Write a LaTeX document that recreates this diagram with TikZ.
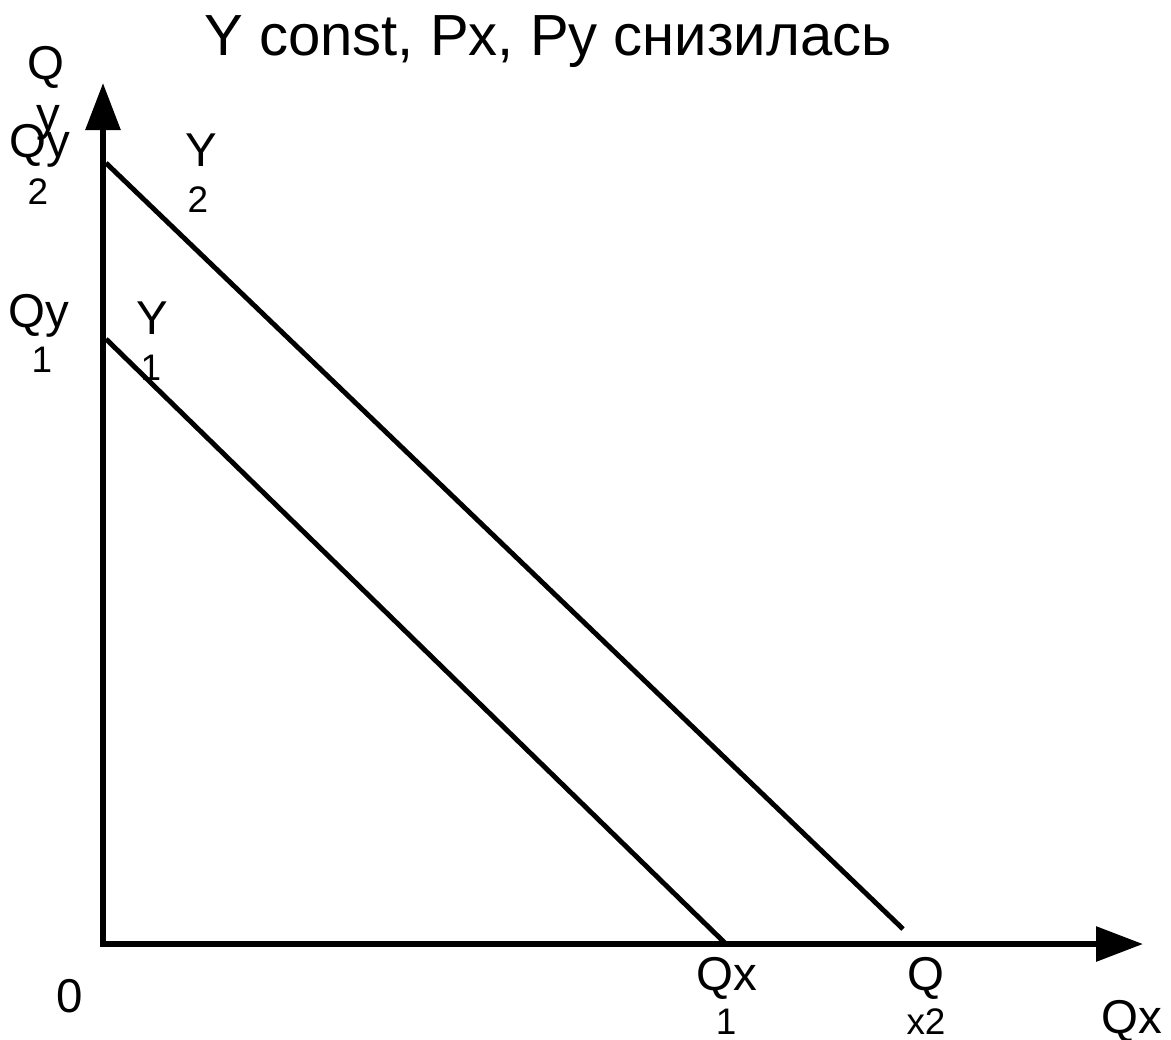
\documentclass[tikz,border=0pt]{standalone}
\usepackage{fontspec}
\setmainfont{Liberation Sans}
\usetikzlibrary{arrows.meta}

\begin{document}
\begin{tikzpicture}[
    x=0.01cm, y=-0.01cm,
    axis/.style={-{Triangle[length=4.7mm, width=3.4mm]}, line width=1.7pt},
    budget/.style={line width=1.4pt},
    title/.style={font=\fontsize{16.5}{18}\selectfont, inner sep=0pt, anchor=base},
    lbl/.style={font=\fontsize{13.5}{15}\selectfont, inner sep=0pt, anchor=base},
    idx/.style={font=\fontsize{10.5}{12}\selectfont, inner sep=0pt, anchor=base}
]
    \useasboundingbox (0,0) rectangle (1171,1039);

    % axes
    \coordinate (O) at (103,944);
    \coordinate (ytip) at (103,83);
    \coordinate (xtip) at (1143,944);
    \draw[axis] ([yshift=-0.03cm]O) -- (ytip);
    \draw[axis] (O) -- (xtip);

    % budget lines
    \coordinate (y2top) at (106,163);
    \coordinate (y2end) at (903,929);
    \coordinate (y1top) at (106,339);
    \coordinate (y1end) at (726,944);
    \draw[budget] (y2top) -- (y2end);
    \draw[budget] (y1top) -- (y1end);

    % title
    \node[title] (head) at (548,55) {Y const, Px, Py снизилась};

    % labels at the y axis
    \node[lbl] (qaxis) at (46,79) {Q};
    \node[lbl] (yaxis) at (48,130) {y};
    \node[lbl] (qy2) at (40,157) {Qy};
    \node[idx] (qy2i) at (38,204) {2};
    \node[lbl] (qy1) at (39,327) {Qy};
    \node[idx] (qy1i) at (42,372) {1};

    % labels of the lines
    \node[lbl] (lY2) at (201,166) {Y};
    \node[idx] (lY2i) at (198,212) {2};
    \node[lbl] (lY1) at (152,334) {Y};
    \node[idx] (lY1i) at (151,380) {1};

    % labels at the x axis
    \node[lbl] (zero) at (70,1012) {0};
    \node[lbl] (qx1) at (727,990) {Qx};
    \node[idx] (qx1i) at (726,1034) {1};
    \node[lbl] (qx2) at (926,990) {Q};
    \node[idx] (qx2i) at (926,1034) {x2};
    \node[lbl] (xaxis) at (1132,1033) {Qx};
\end{tikzpicture}
\end{document}
